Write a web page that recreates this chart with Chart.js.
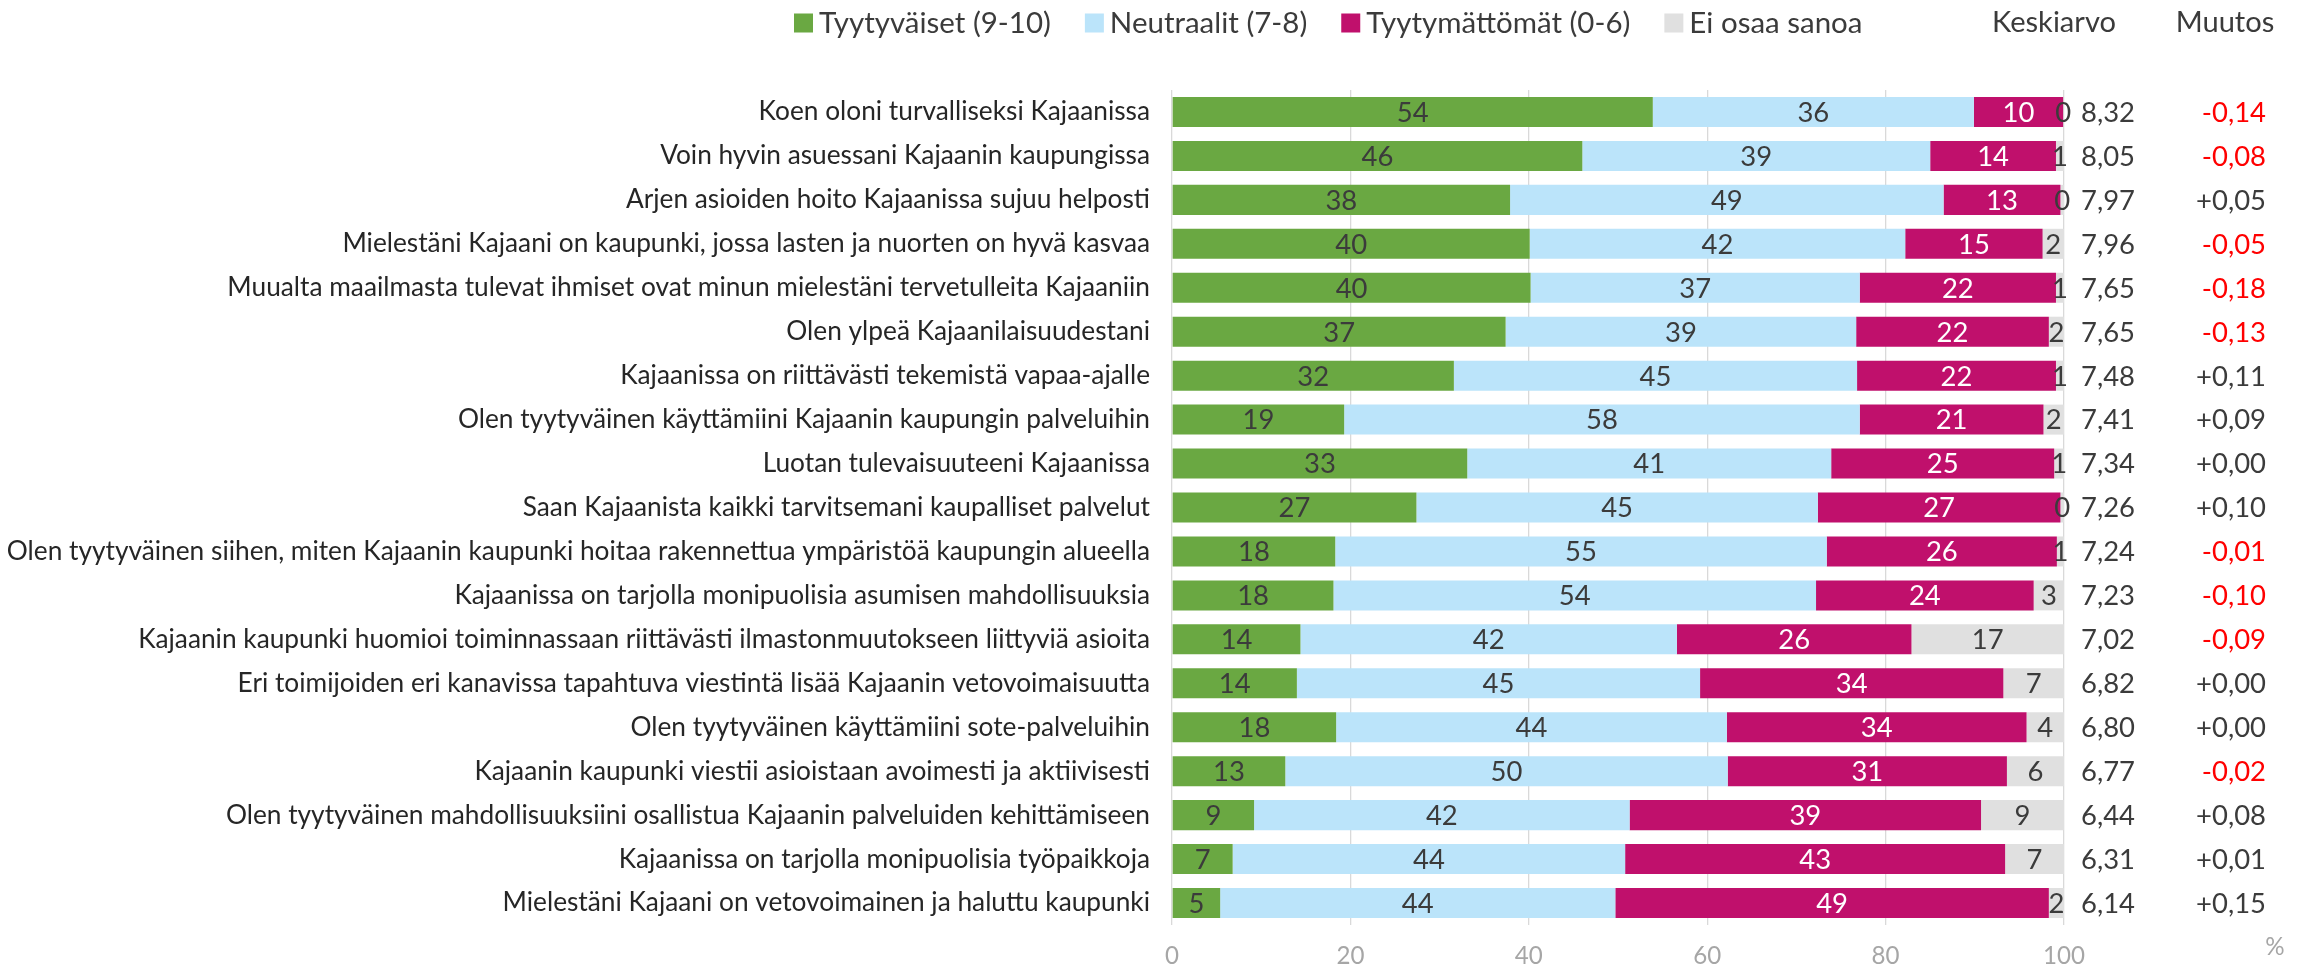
<!DOCTYPE html>
<html>
<head>
<meta charset="utf-8">
<script src="https://cdn.jsdelivr.net/npm/chart.js@4"></script>
<style>
html,body{margin:0;padding:0;background:#fff;}
canvas{display:block;}
</style>
</head>
<body>
<canvas id="c" width="2300" height="970"></canvas>
<script>
const categories = [
  "Koen oloni turvalliseksi Kajaanissa",
  "Voin hyvin asuessani Kajaanin kaupungissa",
  "Arjen asioiden hoito Kajaanissa sujuu helposti",
  "Mielestäni Kajaani on kaupunki, jossa lasten ja nuorten on hyvä kasvaa",
  "Muualta maailmasta tulevat ihmiset ovat minun mielestäni tervetulleita Kajaaniin",
  "Olen ylpeä Kajaanilaisuudestani",
  "Kajaanissa on riittävästi tekemistä vapaa-ajalle",
  "Olen tyytyväinen käyttämiini Kajaanin kaupungin palveluihin",
  "Luotan tulevaisuuteeni Kajaanissa",
  "Saan Kajaanista kaikki tarvitsemani kaupalliset palvelut",
  "Olen tyytyväinen siihen, miten Kajaanin kaupunki hoitaa rakennettua ympäristöä kaupungin alueella",
  "Kajaanissa on tarjolla monipuolisia asumisen mahdollisuuksia",
  "Kajaanin kaupunki huomioi toiminnassaan riittävästi ilmastonmuutokseen liittyviä asioita",
  "Eri toimijoiden eri kanavissa tapahtuva viestintä lisää Kajaanin vetovoimaisuutta",
  "Olen tyytyväinen käyttämiini sote-palveluihin",
  "Kajaanin kaupunki viestii asioistaan avoimesti ja aktiivisesti",
  "Olen tyytyväinen mahdollisuuksiini osallistua Kajaanin palveluiden kehittämiseen",
  "Kajaanissa on tarjolla monipuolisia työpaikkoja",
  "Mielestäni Kajaani on vetovoimainen ja haluttu kaupunki"
];
const seriesNames = ["Tyytyväiset (9-10)", "Neutraalit (7-8)", "Tyytymättömät (0-6)", "Ei osaa sanoa"];
const satisfied    = [53.9, 46.0, 37.9, 40.1, 40.2, 37.4, 31.6, 19.3, 33.1, 27.4, 18.3, 18.1, 14.4, 14.0, 18.4, 12.7, 9.2, 6.8, 5.4];
const neutral      = [36.0, 39.0, 48.6, 42.1, 36.9, 39.3, 45.2, 57.8, 40.8, 45.0, 55.1, 54.1, 42.2, 45.2, 43.8, 49.6, 42.1, 44.0, 44.3];
const dissatisfied = [10.0, 14.1, 13.1, 15.4, 22.0, 21.6, 22.3, 20.6, 25.0, 27.2, 25.8, 24.4, 26.3, 34.0, 33.6, 31.3, 39.4, 42.6, 48.6];
const noOpinion    = [0.0, 0.9, 0.4, 2.4, 0.9, 1.7, 0.9, 2.3, 1.1, 0.4, 0.8, 3.4, 17.1, 6.8, 4.2, 6.4, 9.3, 6.6, 1.7];
const averages     = [8.32, 8.05, 7.97, 7.96, 7.65, 7.65, 7.48, 7.41, 7.34, 7.26, 7.24, 7.23, 7.02, 6.82, 6.80, 6.77, 6.44, 6.31, 6.14];
const changes      = [-0.14, -0.08, 0.05, -0.05, -0.18, -0.13, 0.11, 0.09, 0.00, 0.10, -0.01, -0.10, -0.09, 0.00, 0.00, -0.02, 0.08, 0.01, 0.15];
const averageHeader = "Keskiarvo";
const changeHeader = "Muutos";
const unitLabel = "%";

const FAMILY = "Lato";
const colors = ["#6aa842", "#bbe4fa", "#c0106c", "#e0e0e0"];
const labelColors = ["#3b3b3b", "#3b3b3b", "#ffffff", "#3b3b3b"];
const TEXT = "#3b3b3b";

// fit font sizes so text widths match the reference
const mctx = document.createElement("canvas").getContext("2d");
function fit(text, w){ mctx.font = "100px " + FAMILY; return 100 * w / mctx.measureText(text).width; }
const longest = categories.reduce((a,b)=>{ mctx.font="100px "+FAMILY; return mctx.measureText(a).width > mctx.measureText(b).width ? a : b; });
const catSize = fit(longest, 1144);
const numSize = fit("8,32", 54);
const legendSize = fit(seriesNames[0], 232);
const headSize = fit(averageHeader, 124);
const tickSize = fit("100", 42);

function fmt(v){ return v.toFixed(2).replace(".", ","); }
function fmtChange(v){ return (v < 0 ? "-" : "+") + Math.abs(v).toFixed(2).replace(".", ","); }

const overlay = {
  id: "overlay",
  beforeDraw(chart){
    const c = chart.ctx; c.save(); c.fillStyle = "#fff"; c.fillRect(0,0,chart.width,chart.height); c.restore();
  },
  afterDatasetsDraw(chart){
    const c = chart.ctx;
    c.save();
    c.textAlign = "center"; c.textBaseline = "middle";
    c.font = numSize + "px " + FAMILY;
    chart.data.datasets.forEach((ds, di) => {
      const meta = chart.getDatasetMeta(di);
      meta.data.forEach((bar, i) => {
        const cx = (bar.x + bar.base) / 2;
        c.fillStyle = labelColors[di];
        c.fillText(String(Math.round(ds.data[i])), cx, bar.y + 1);
      });
    });
    const ys = chart.scales.y;
    const xs = chart.scales.x;
    const right = xs.right;
    // averages and changes
    averages.forEach((v, i) => {
      const y = ys.getPixelForValue(i) + 1;
      c.textAlign = "left"; c.fillStyle = TEXT;
      c.fillText(fmt(v), right + 17, y);
      c.textAlign = "right";
      c.fillStyle = changes[i] < 0 ? "#ff0000" : TEXT;
      c.fillText(fmtChange(changes[i]), right + 202, y);
    });
    // legend
    c.textAlign = "left";
    c.font = legendSize + "px " + FAMILY;
    let x = 794; const ly = 23;
    chart.data.datasets.forEach((ds) => {
      c.fillStyle = ds.backgroundColor;
      c.fillRect(x, ly - 9.5, 19, 19);
      x += 25;
      c.fillStyle = TEXT;
      c.fillText(ds.label, x, ly);
      x += c.measureText(ds.label).width + 34;
    });
    c.font = headSize + "px " + FAMILY;
    c.textAlign = "center";
    c.fillText(averageHeader, right - 10, ly);
    c.fillText(changeHeader, right + 161, ly);
    // unit
    c.font = tickSize + "px " + FAMILY;
    c.fillStyle = "#a6a6a6";
    c.fillText(unitLabel, right + 211, chart.height - 23);
    c.restore();
  }
};

const datasetValues = [satisfied, neutral, dissatisfied, noOpinion];
new Chart(document.getElementById("c"), {
  type: "bar",
  data: {
    labels: categories,
    datasets: datasetValues.map((d, i) => ({
      label: seriesNames[i],
      data: d,
      backgroundColor: colors[i],
      borderWidth: 0,
      barPercentage: 0.683,
      categoryPercentage: 1
    }))
  },
  options: {
    indexAxis: "y",
    responsive: false,
    animation: false,
    devicePixelRatio: 1,
    layout: { padding: { left: 0, right: 236, top: 90, bottom: 0 } },
    plugins: { legend: { display: false }, tooltip: { enabled: false } },
    scales: {
      x: {
        stacked: true, min: 0, max: 100,
        ticks: { stepSize: 20, color: "#a6a6a6", font: { family: FAMILY, size: tickSize }, padding: 17, maxRotation: 0 },
        grid: { color: "#d9d9d9", lineWidth: 1.3, drawTicks: false },
        border: { display: false },
        afterFit(scale){ scale.height = 45; }
      },
      y: {
        stacked: true,
        ticks: { color: "#262626", font: { family: FAMILY, size: catSize }, padding: 22, autoSkip: false },
        grid: { display: false, drawTicks: false },
        border: { display: false },
        afterFit(scale){ scale.width = 1172; }
      }
    }
  },
  plugins: [overlay]
});
</script>
</body>
</html>
